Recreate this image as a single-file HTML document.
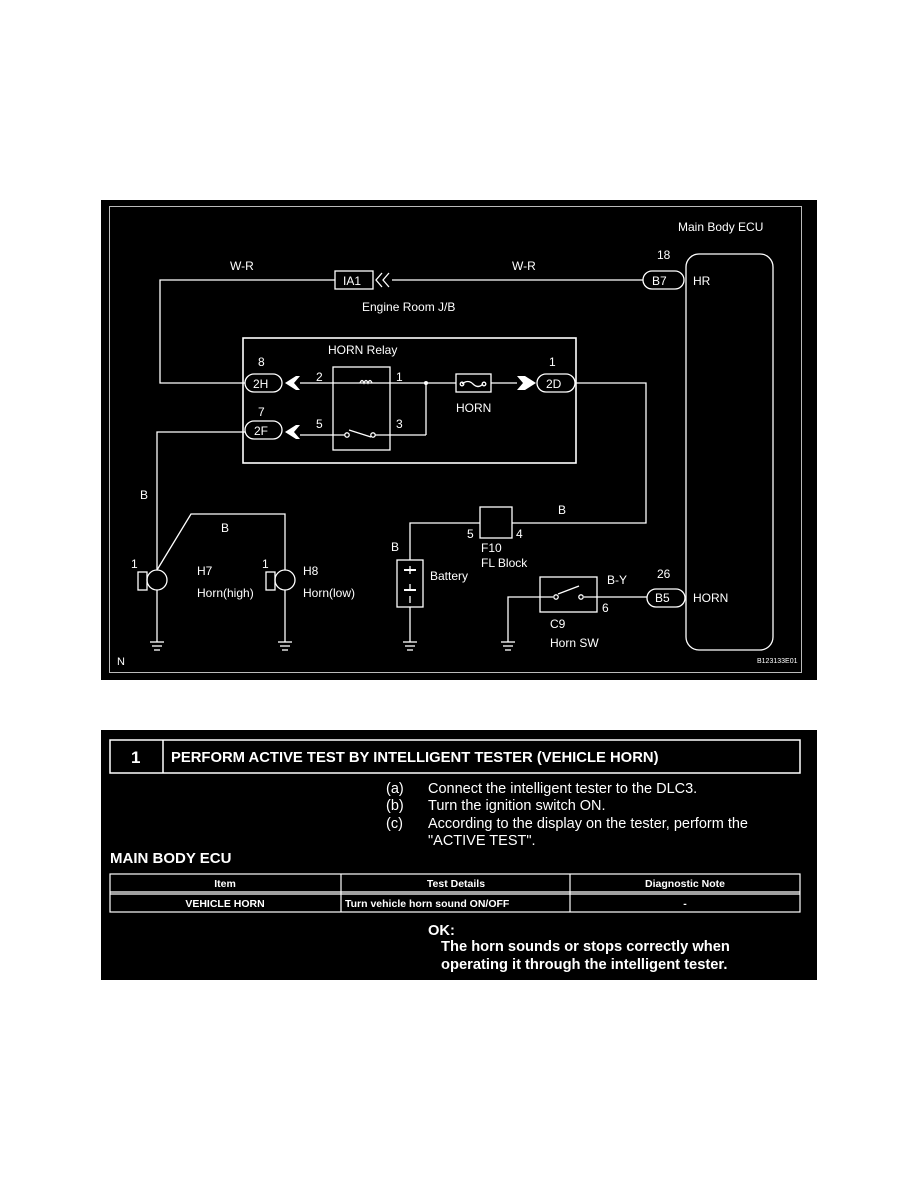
<!DOCTYPE html>
<html><head><meta charset="utf-8"><style>
html,body{margin:0;padding:0;background:#fff;width:918px;height:1188px;overflow:hidden}
svg{display:block}
text{font-family:"Liberation Sans",Arial,sans-serif;fill:#fff}
</style></head><body>
<svg width="918" height="1188" viewBox="0 0 918 1188">
<rect x="101" y="200" width="716" height="480" fill="#000"/>
<rect x="109.5" y="206.5" width="692" height="466" fill="none" stroke="#bbb" stroke-width="1"/>
<g stroke="#fff" fill="none" stroke-width="1.3">
<rect x="686" y="254" width="87" height="396" rx="13"/>
<polyline points="643,280 392,280"/>
<polyline points="335,280 160,280 160,383 245,383"/>
<rect x="335" y="271" width="38" height="18"/>
<polyline points="382,273 376,280 382,287"/><polyline points="389,273 383,280 389,287"/>
<rect x="643" y="271" width="41" height="18" rx="9"/>
<rect x="243" y="338" width="333" height="125" stroke-width="1.6"/>
<rect x="245" y="374" width="37" height="18" rx="9"/>
<rect x="245" y="421" width="37" height="18" rx="9"/>
<rect x="537" y="374" width="38" height="18" rx="9"/>
<rect x="333" y="367" width="57" height="83"/>
<line x1="300" y1="383" x2="456" y2="383"/>
<line x1="300" y1="435" x2="345" y2="435"/>
<line x1="375" y1="435" x2="426" y2="435"/>
<line x1="426" y1="383" x2="426" y2="435"/>
<circle cx="347" cy="435" r="2.2"/><circle cx="373" cy="435" r="2.2"/>
<line x1="349" y1="430" x2="371" y2="437"/>
<rect x="456" y="374" width="35" height="18"/>
<line x1="491" y1="383" x2="517" y2="383"/>
<path d="M462 384 q6 -5 11 0 q5 5 10 0"/>
<circle cx="462" cy="384" r="1.8"/><circle cx="484" cy="384" r="1.8"/>
<path d="M360 383 q2 -5 4 0 q2 -5 4 0 q2 -5 4 0"/>
<polyline points="575,383 646,383 646,523 512,523"/>
<polyline points="480,523 410,523 410,560"/>
<rect x="480" y="507" width="32" height="31"/>
<rect x="397" y="560" width="26" height="47"/>
<line x1="410" y1="607" x2="410" y2="642"/>
<line x1="410" y1="566" x2="410" y2="574"/><line x1="410" y1="584" x2="410" y2="590"/><line x1="410" y1="596" x2="410" y2="603"/>
<polyline points="245,432 157,432 157,570"/>
<line x1="157" y1="590" x2="157" y2="642"/>
<polyline points="157,570 191,514 285,514 285,570"/>
<line x1="285" y1="590" x2="285" y2="642"/>
<circle cx="157" cy="580" r="10"/><rect x="138" y="572" width="9" height="18"/>
<circle cx="285" cy="580" r="10"/><rect x="266" y="572" width="9" height="18"/>
<rect x="540" y="577" width="57" height="35"/>
<polyline points="553,597 508,597 508,642"/>
<line x1="584" y1="597" x2="647" y2="597"/>
<circle cx="556" cy="597" r="2.2"/><circle cx="581" cy="597" r="2.2"/>
<line x1="558" y1="594" x2="579" y2="586"/>
<rect x="647" y="589" width="38" height="18" rx="9"/>
</g>
<g fill="#fff">
<polygon points="285,383 296,376 300,376 294,383 300,390 296,390"/>
<polygon points="285,432 296,425 300,425 294,432 300,439 296,439"/>
<polygon points="536,383 525,376 517,376 523,383 517,390 525,390"/>
<circle cx="426" cy="383" r="2"/>
<rect x="404" y="569" width="12" height="2"/><rect x="404" y="589" width="12" height="2"/>
</g>
<g stroke="#fff" stroke-width="1.3">
<line x1="150" y1="642" x2="164" y2="642"/><line x1="152" y1="646" x2="162" y2="646"/><line x1="154" y1="650" x2="160" y2="650"/>
<line x1="278" y1="642" x2="292" y2="642"/><line x1="280" y1="646" x2="290" y2="646"/><line x1="282" y1="650" x2="288" y2="650"/>
<line x1="403" y1="642" x2="417" y2="642"/><line x1="405" y1="646" x2="415" y2="646"/><line x1="407" y1="650" x2="413" y2="650"/>
<line x1="501" y1="642" x2="515" y2="642"/><line x1="503" y1="646" x2="513" y2="646"/><line x1="505" y1="650" x2="511" y2="650"/>
</g>
<g font-size="12">
<text x="678" y="231">Main Body ECU</text>
<text x="657" y="259">18</text>
<text x="652" y="285">B7</text>
<text x="693" y="285">HR</text>
<text x="230" y="270">W-R</text>
<text x="512" y="270">W-R</text>
<text x="343" y="285">IA1</text>
<text x="362" y="311">Engine Room J/B</text>
<text x="328" y="354">HORN Relay</text>
<text x="258" y="366">8</text>
<text x="253" y="388">2H</text>
<text x="316" y="381">2</text>
<text x="396" y="381">1</text>
<text x="549" y="366">1</text>
<text x="546" y="388">2D</text>
<text x="456" y="412">HORN</text>
<text x="258" y="416">7</text>
<text x="254" y="435">2F</text>
<text x="316" y="428">5</text>
<text x="396" y="428">3</text>
<text x="140" y="499">B</text>
<text x="221" y="532">B</text>
<text x="558" y="514">B</text>
<text x="391" y="551">B</text>
<text x="467" y="538">5</text>
<text x="516" y="538">4</text>
<text x="481" y="552">F10</text>
<text x="481" y="567">FL Block</text>
<text x="430" y="580">Battery</text>
<text x="131" y="568">1</text>
<text x="262" y="568">1</text>
<text x="197" y="575">H7</text>
<text x="197" y="597">Horn(high)</text>
<text x="303" y="575">H8</text>
<text x="303" y="597">Horn(low)</text>
<text x="657" y="578">26</text>
<text x="607" y="584">B-Y</text>
<text x="602" y="612">6</text>
<text x="655" y="602">B5</text>
<text x="693" y="602">HORN</text>
<text x="550" y="628">C9</text>
<text x="550" y="647">Horn SW</text>
<text x="117" y="665" font-size="11">N</text>
<text x="757" y="663" font-size="7">B123133E01</text>
</g>
<rect x="101" y="730" width="716" height="250" fill="#000"/>
<g stroke="#fff" fill="none" stroke-width="1.5">
<rect x="110" y="740" width="690" height="33"/>
<line x1="163" y1="740" x2="163" y2="773"/>
</g>
<text x="131" y="763" font-size="17" font-weight="bold">1</text>
<text x="171" y="762" font-size="14.8" font-weight="bold">PERFORM ACTIVE TEST BY INTELLIGENT TESTER (VEHICLE HORN)</text>
<g font-size="14.5">
<text x="386" y="793">(a)</text><text x="428" y="793">Connect the intelligent tester to the DLC3.</text>
<text x="386" y="810">(b)</text><text x="428" y="810">Turn the ignition switch ON.</text>
<text x="386" y="828">(c)</text><text x="428" y="828">According to the display on the tester, perform the</text>
<text x="428" y="845">"ACTIVE TEST".</text>
</g>
<text x="110" y="863" font-size="15" font-weight="bold">MAIN BODY ECU</text>
<g stroke="#fff" fill="none" stroke-width="1.2">
<rect x="110" y="874" width="690" height="38"/>
<line x1="110" y1="892" x2="800" y2="892"/><line x1="110" y1="894" x2="800" y2="894"/>
<line x1="341" y1="874" x2="341" y2="912"/><line x1="570" y1="874" x2="570" y2="912"/>
</g>
<g font-size="10.5" font-weight="bold" text-anchor="middle">
<text x="225" y="887">Item</text><text x="456" y="887">Test Details</text><text x="685" y="887">Diagnostic Note</text>
<text x="225" y="907">VEHICLE HORN</text><text x="685" y="907">-</text>
</g>
<text x="345" y="907" font-size="10.5" font-weight="bold">Turn vehicle horn sound ON/OFF</text>
<g font-size="14.7" font-weight="bold">
<text x="428" y="935">OK:</text>
<text x="441" y="951">The horn sounds or stops correctly when</text>
<text x="441" y="969">operating it through the intelligent tester.</text>
</g>
</svg>
</body></html>
